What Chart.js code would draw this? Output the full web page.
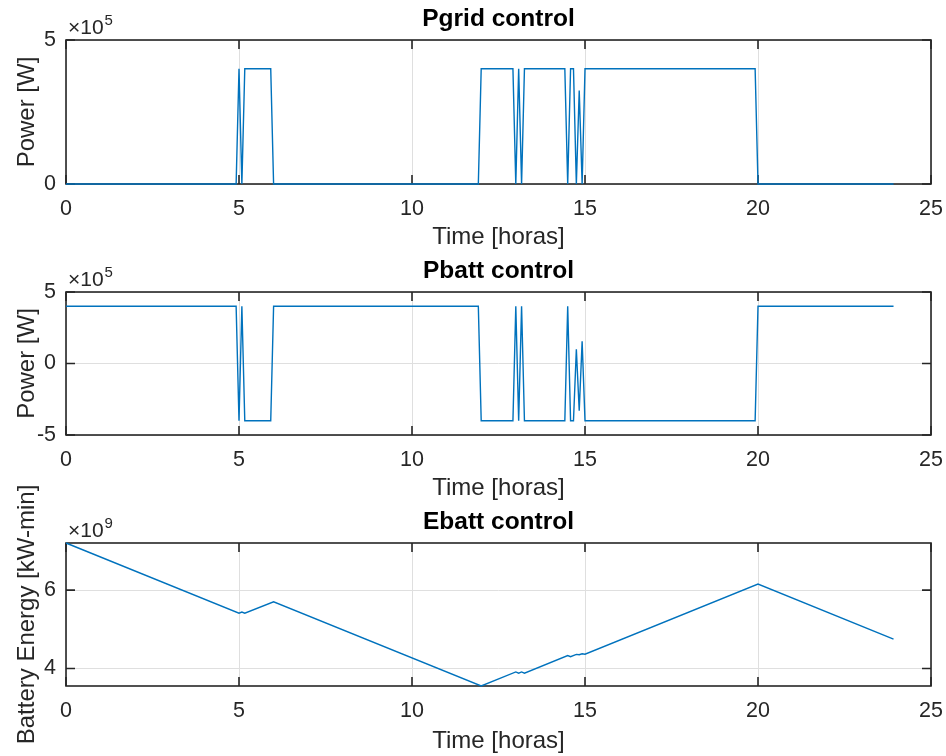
<!DOCTYPE html>
<html>
<head>
<meta charset="utf-8">
<title>Pgrid / Pbatt / Ebatt control</title>
<script src="https://cdn.jsdelivr.net/npm/chart.js@4.4.1/dist/chart.umd.min.js"></script>
<style>
  html, body { margin: 0; padding: 0; background: #fff; }
  #wrap { position: relative; width: 946px; height: 756px; }
  #wrap canvas { position: absolute; left: 0; top: 0; }
</style>
</head>
<body>
<div id="wrap">
  <canvas id="gridChart" width="946" height="756"></canvas>
  <canvas id="battChart" width="946" height="756"></canvas>
  <canvas id="energyChart" width="946" height="756"></canvas>
</div>
<script>
// sample times (hours) where the power signals change
const timeHours = [0, 4.917, 5.0, 5.083, 5.167, 5.917, 6.0, 11.917, 12.0, 12.917, 13.0, 13.083, 13.167, 13.25,
  14.417, 14.5, 14.583, 14.667, 14.75, 14.833, 14.917, 15.0, 19.917, 20.0, 23.917]
const pgridW = [0, 0, 4e5, 0, 4e5, 4e5, 0, 0, 4e5, 4e5, 0, 4e5, 0, 4e5,
  4e5, 0, 4e5, 4e5, 0, 3.25e5, 0, 4e5, 4e5, 0, 0]
const pbattW = [4e5, 4e5, -4e5, 4e5, -4e5, -4e5, 4e5, 4e5, -4e5, -4e5, 4e5, -4e5, 4e5, -4e5,
  -4e5, 4e5, -4e5, -4e5, 1e5, -3.3e5, 1.55e5, -4e5, -4e5, 4e5, 4e5]

// battery energy breakpoints
const energyTime = [0, 5.0, 5.083, 5.167, 6.0, 12.0, 13.0, 13.083, 13.167, 13.25, 14.5, 14.583, 14.75, 14.833, 14.917, 15.0, 20.0, 23.917]
const energyVal = [7.2e9, 5.41e9, 5.44e9, 5.41e9, 5.70e9, 3.555e9, 3.913e9, 3.883e9, 3.913e9, 3.883e9,
  4.33e9, 4.30e9, 4.36e9, 4.353e9, 4.377e9, 4.365e9, 6.153e9, 4.75e9]

// tick labels
const xTicks = [0, 5, 10, 15, 20, 25]
const pgridTicks = [0, 5e5]
const pbattTicks = [-5e5, 0, 5e5]
const energyTicks = [4e9, 6e9]

const FONT = '"Liberation Sans", Arial, Helvetica, sans-serif'
const AXIS = '#262626'
const LINE = '#0072BD'

// MATLAB-like box with inward ticks + exponent label
const matlabAxes = {
  id: 'matlabAxes',
  beforeDatasetsDraw(chart) {
    const { ctx, chartArea: a, scales: { x, y } } = chart
    ctx.save()
    ctx.strokeStyle = AXIS
    ctx.lineWidth = 1.6
    ctx.beginPath()
    x.ticks.forEach(t => {
      const px = x.getPixelForValue(t.value)
      ctx.moveTo(px, a.bottom); ctx.lineTo(px, a.bottom - 9)
      ctx.moveTo(px, a.top); ctx.lineTo(px, a.top + 9)
    })
    y.ticks.forEach(t => {
      const py = y.getPixelForValue(t.value)
      ctx.moveTo(a.left, py); ctx.lineTo(a.left + 9, py)
      ctx.moveTo(a.right, py); ctx.lineTo(a.right - 9, py)
    })
    ctx.stroke()
    ctx.strokeRect(a.left, a.top, a.right - a.left, a.bottom - a.top)
    ctx.restore()
  },
  afterDraw(chart, args, opts) {
    if (!opts.exponent) return
    const { ctx, chartArea: a } = chart
    ctx.save()
    ctx.fillStyle = AXIS
    ctx.textBaseline = 'alphabetic'
    ctx.textAlign = 'left'
    ctx.font = '21px ' + FONT
    ctx.fillText('×10', a.left + 2, a.top - 6.5)
    const w = ctx.measureText('×10').width
    ctx.font = '15px ' + FONT
    ctx.fillText(opts.exponent, a.left + 3 + w, a.top - 15)
    ctx.restore()
  }
}

function makeChart(id, cfg) {
  const pts = cfg.times.map((t, i) => ({ x: t, y: cfg.values[i] }))
  return new Chart(document.getElementById(id), {
    type: 'line',
    data: { datasets: [{ data: pts, borderColor: LINE, borderWidth: 1.4, pointRadius: 0, tension: 0, fill: false, clip: 4 }] },
    options: {
      responsive: false,
      animation: false,
      devicePixelRatio: 1,
      layout: { padding: { top: cfg.padTop, bottom: cfg.padBottom, left: 0, right: 15 } },
      plugins: {
        legend: { display: false },
        tooltip: { enabled: false },
        title: {
          display: true, fullSize: false, text: cfg.title, color: '#000',
          font: { family: FONT, size: 24.5, weight: 'bold', lineHeight: 1.2 },
          padding: { top: 5, bottom: 5.6 }
        },
        matlabAxes: { exponent: cfg.exponent }
      },
      scales: {
        x: {
          type: 'linear', min: 0, max: 25,
          afterBuildTicks: s => { s.ticks = xTicks.map(v => ({ value: v })) },
          afterFit: s => { s.height = cfg.xHeight; s.paddingLeft = 0; s.paddingRight = 0 },
          grid: { color: '#dfdfdf', lineWidth: 1, drawTicks: false },
          border: { display: false },
          ticks: { color: AXIS, font: { family: FONT, size: 21.5 }, padding: 12, maxRotation: 0, autoSkip: false },
          title: { display: true, text: 'Time [horas]', color: AXIS, font: { family: FONT, size: 24, lineHeight: 1.2 }, padding: { top: 0, bottom: cfg.xTitlePad } }
        },
        y: {
          type: 'linear', min: cfg.yMin, max: cfg.yMax,
          afterBuildTicks: s => { s.ticks = cfg.yTicks.map(v => ({ value: v })) },
          afterFit: s => { s.width = 66; s.paddingTop = 0; s.paddingBottom = 0 },
          grid: { color: '#dfdfdf', lineWidth: 1, drawTicks: false },
          border: { display: false },
          ticks: { color: AXIS, font: { family: FONT, size: 21.5 }, padding: 10, callback: v => String(Math.round(v / cfg.scale)) },
          title: { display: true, text: cfg.ylabel, color: AXIS, font: { family: FONT, size: 24, lineHeight: 1.2 }, padding: { top: 12.6, bottom: 0 } }
        }
      }
    },
    plugins: [matlabAxes]
  })
}

makeChart('gridChart', {
  title: 'Pgrid control', ylabel: 'Power [W]', exponent: '5', scale: 1e5,
  times: timeHours, values: pgridW, yMin: 0, yMax: 5e5, yTicks: pgridTicks,
  padTop: 0, padBottom: 504, xHeight: 68, xTitlePad: 0
})
makeChart('battChart', {
  title: 'Pbatt control', ylabel: 'Power [W]', exponent: '5', scale: 1e5,
  times: timeHours, values: pbattW, yMin: -5e5, yMax: 5e5, yTicks: pbattTicks,
  padTop: 252, padBottom: 253, xHeight: 68, xTitlePad: 0
})
makeChart('energyChart', {
  title: 'Ebatt control', ylabel: 'Battery Energy [kW-min]', exponent: '9', scale: 1e9,
  times: energyTime, values: energyVal, yMin: 3.555e9, yMax: 7.2e9, yTicks: energyTicks,
  padTop: 503, padBottom: 0, xHeight: 70, xTitlePad: 0.6
})
</script>
</body>
</html>
